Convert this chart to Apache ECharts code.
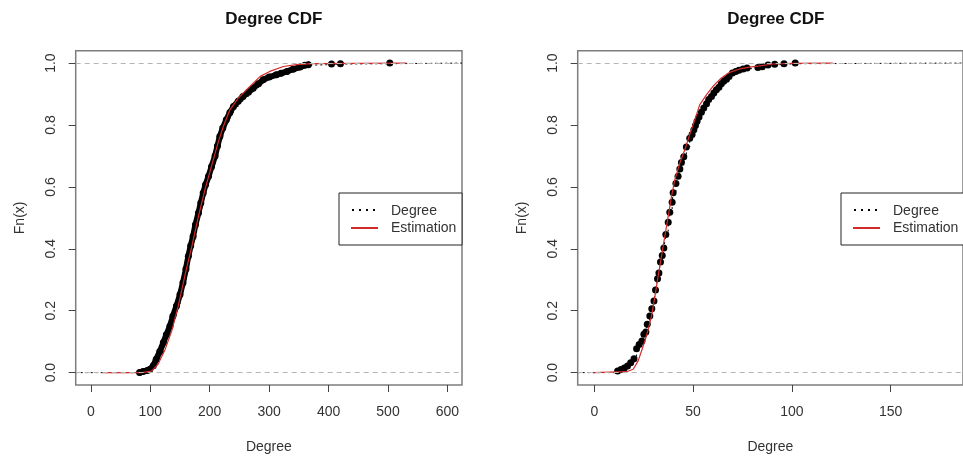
<!DOCTYPE html>
<html>
<head>
<meta charset="utf-8">
<script src="https://cdn.jsdelivr.net/npm/echarts@6/dist/echarts.min.js"></script>
<style>
  html, body { margin: 0; padding: 0; background: #fff; }
  #chart { width: 963px; height: 459px; }
</style>
</head>
<body>
<div id="chart"></div>
<script>
// axis limits and ticks
const leftXRange = [-25.5, 624.5];
const rightXRange = [-8.4, 186.6];
const yRange = [-0.04, 1.04];
const leftXTicks = [0, 100, 200, 300, 400, 500, 600];
const rightXTicks = [0, 50, 100, 150];
const yTicks = [0, 0.2, 0.4, 0.6, 0.8, 1.0];

// left panel: empirical CDF points (the first leftDenseCount of them sit packed together)
const leftDegreeX = [82, 88, 95, 99, 105, 110, 116, 122, 127, 133, 138, 144, 150, 155, 160, 164, 168, 172, 176, 181,
    185, 189, 193, 198, 203, 209, 213, 217, 222, 228, 234, 240, 248, 256, 265, 273, 282, 290, 300, 312,
    320, 330, 340, 352, 360, 366, 405, 420, 503];
const leftDegreeY = [0.000, 0.004, 0.007, 0.010, 0.022, 0.043, 0.068, 0.097, 0.122, 0.150, 0.182, 0.215, 0.252, 0.290, 0.335, 0.376, 0.410, 0.440, 0.478, 0.516,
    0.548, 0.580, 0.607, 0.634, 0.665, 0.700, 0.732, 0.763, 0.790, 0.817, 0.840, 0.860, 0.877, 0.892, 0.906, 0.919, 0.933, 0.946, 0.955, 0.962,
    0.967, 0.973, 0.980, 0.987, 0.993, 0.995, 0.997, 0.998, 1.000];
const leftDenseCount = 46;

// left panel: estimation curve
const leftEstX = [20, 85, 102, 113, 125, 136, 147, 158, 170, 181, 192, 203, 214, 223, 234, 248, 268, 285, 301, 324, 346, 374, 531];
const leftEstY = [0, 0, 0.005, 0.027, 0.075, 0.134, 0.215, 0.312, 0.409, 0.505, 0.591, 0.667, 0.742, 0.796, 0.849, 0.887, 0.925, 0.957, 0.973, 0.989, 0.995, 0.998, 1.0];

// right panel: empirical CDF points
const rightDegreeX = [11.8, 13.5, 15.2, 16.8, 18.4, 20.1, 21.4, 22.7, 24.1, 25.1, 26.1, 26.8, 28.1, 29.1, 30.2, 31.0, 32.0, 32.7, 33.5, 34.4,
    35.2, 36.2, 37.4, 38.2, 39.4, 39.9, 41.3, 42.4, 43.3, 44.1, 45.3, 46.6, 48.3, 49.5, 50.4, 51.2, 52.0, 53.0, 54.2, 55.4,
    56.8, 57.9, 59.3, 60.5, 61.8, 63.1, 64.3, 65.5, 66.9, 68.2, 69.9, 71.6, 73.2, 75.3, 77.3, 82.8, 85.0, 87.9, 91.3, 96.0, 101.7];
const rightDegreeY = [0.005, 0.010, 0.015, 0.021, 0.032, 0.045, 0.077, 0.091, 0.102, 0.124, 0.131, 0.156, 0.183, 0.206, 0.231, 0.267, 0.303, 0.322, 0.357, 0.378,
    0.403, 0.446, 0.486, 0.518, 0.550, 0.581, 0.611, 0.634, 0.658, 0.679, 0.697, 0.729, 0.757, 0.769, 0.785, 0.798, 0.812, 0.826, 0.841, 0.855,
    0.869, 0.882, 0.892, 0.903, 0.914, 0.922, 0.933, 0.941, 0.948, 0.957, 0.968, 0.973, 0.977, 0.981, 0.984, 0.986, 0.988, 0.994, 0.996, 0.998, 1.000];

// right panel: estimation curve
const rightEstX = [-0.5, 16.3, 19.7, 22.2, 23.9, 25.6, 27.3, 29.0, 30.7, 32.3, 34.0, 35.7, 37.4, 39.1, 40.8, 43.3, 45.8, 48.3, 50.9, 53.4,
    56.8, 60.1, 64.3, 68.5, 73.6, 78.6, 83.7, 90.4, 100.5, 120.7];
const rightEstY = [0, 0.003, 0.011, 0.038, 0.070, 0.102, 0.140, 0.183, 0.247, 0.312, 0.376, 0.441, 0.505, 0.570, 0.624, 0.677, 0.720, 0.769, 0.817, 0.866,
    0.898, 0.925, 0.952, 0.970, 0.981, 0.987, 0.991, 0.997, 0.999, 1.0];

const FONT = '"Liberation Sans", Arial, sans-serif';
const TXT = '#333';
const RED = '#d42a2a';

const zip = (xs, ys) => xs.map((x, i) => [x, ys[i]]);

const chart = echarts.init(document.getElementById('chart'), null, { renderer: 'canvas' });

const grids = [
    { left: 75.7, top: 50.7, width: 386.3, height: 335 },
    { left: 577.7, top: 50.7, width: 386.3, height: 335 }
];

const makeXAxis = (idx, range, ticks) => ({
    gridIndex: idx,
    type: 'value',
    min: range[0],
    max: range[1],
    axisLine: { show: false, onZero: false },
    splitLine: { show: false },
    axisTick: { show: true, customValues: ticks, length: 7, lineStyle: { color: '#444' } },
    axisLabel: { customValues: ticks, fontSize: 14, color: TXT, fontFamily: FONT, margin: 20 },
    name: 'Degree',
    nameLocation: 'middle',
    nameGap: 55,
    nameTextStyle: { fontSize: 14, color: TXT, fontFamily: FONT }
});

const makeYAxis = (idx) => ({
    gridIndex: idx,
    type: 'value',
    min: yRange[0],
    max: yRange[1],
    axisLine: { show: false, onZero: false },
    splitLine: { show: false },
    axisTick: { show: true, customValues: yTicks, length: 7, lineStyle: { color: '#444' } },
    axisLabel: {
        customValues: yTicks, rotate: 90, fontSize: 14, color: TXT, fontFamily: FONT, margin: 18,
        formatter: v => v.toFixed(1)
    },
    name: 'Fn(x)',
    nameLocation: 'middle',
    nameGap: 49,
    nameTextStyle: { fontSize: 14, color: TXT, fontFamily: FONT }
});

const refLines = {
    silent: true,
    symbol: 'none',
    label: { show: false },
    lineStyle: { color: '#b5b5b5', type: [5, 4], width: 1 },
    data: [{ yAxis: 0 }, { yAxis: 1 }]
};

const panelSeries = (idx, range, dx, dy, ex, ey, denseCount) => {
    const pts = zip(dx, dy);
    const steps = [[range[0], 0]].concat(pts, [[range[1], 1]]);
    const list = [
        {
            type: 'line', xAxisIndex: idx, yAxisIndex: idx, data: steps, step: 'end',
            showSymbol: false, lineStyle: { color: '#000', width: 1, type: [2, 3] }, z: 2,
            markLine: refLines, silent: true
        },
        {
            type: 'scatter', xAxisIndex: idx, yAxisIndex: idx, data: pts,
            symbol: 'circle', symbolSize: 7,
            itemStyle: { color: '#000', opacity: 1 }, z: 3, silent: true
        },
        {
            type: 'line', xAxisIndex: idx, yAxisIndex: idx, data: zip(ex, ey),
            showSymbol: false, lineStyle: { color: RED, width: 1.2 }, z: 4, silent: true
        }
    ];
    if (denseCount) {
        // packed points blend into one thick band
        list.push({
            type: 'line', xAxisIndex: idx, yAxisIndex: idx, data: pts.slice(0, denseCount),
            showSymbol: false, lineStyle: { color: '#000', width: 6, cap: 'round', join: 'round' }, z: 3, silent: true
        });
    }
    return list;
};

const legendGroup = (x0) => ({
    type: 'group',
    left: x0,
    top: 192.5,
    children: [
        { type: 'rect', shape: { x: 0, y: 0, width: 123, height: 52 }, style: { fill: '#fff', stroke: '#222', lineWidth: 1 } },
        { type: 'line', shape: { x1: 13, y1: 17, x2: 38, y2: 17 }, style: { stroke: '#000', lineWidth: 2, lineDash: [2, 5] } },
        { type: 'line', shape: { x1: 12, y1: 35, x2: 39, y2: 35 }, style: { stroke: RED, lineWidth: 2 } },
        { type: 'text', x: 52, y: 18.5, style: { text: 'Degree', font: '14px ' + FONT, fill: TXT, verticalAlign: 'middle' } },
        { type: 'text', x: 52, y: 35.5, style: { text: 'Estimation', font: '14px ' + FONT, fill: TXT, verticalAlign: 'middle' } }
    ]
});

const option = {
    animation: false,
    backgroundColor: '#fff',
    title: [
        { text: 'Degree CDF', left: 268.8, top: 6, textAlign: 'center',
          textStyle: { fontSize: 17, fontWeight: 'bold', color: '#111', fontFamily: FONT } },
        { text: 'Degree CDF', left: 770.8, top: 6, textAlign: 'center',
          textStyle: { fontSize: 17, fontWeight: 'bold', color: '#111', fontFamily: FONT } }
    ],
    grid: grids.map(g => Object.assign({ show: true, borderColor: '#7d7d7d', borderWidth: 1.5, backgroundColor: 'transparent' }, g)),
    xAxis: [makeXAxis(0, leftXRange, leftXTicks), makeXAxis(1, rightXRange, rightXTicks)],
    yAxis: [makeYAxis(0), makeYAxis(1)],
    series: [].concat(
        panelSeries(0, leftXRange, leftDegreeX, leftDegreeY, leftEstX, leftEstY, leftDenseCount),
        panelSeries(1, rightXRange, rightDegreeX, rightDegreeY, rightEstX, rightEstY, 0)
    ),
    graphic: [legendGroup(338.5), legendGroup(840.5)]
};

chart.setOption(option);
</script>
</body>
</html>
